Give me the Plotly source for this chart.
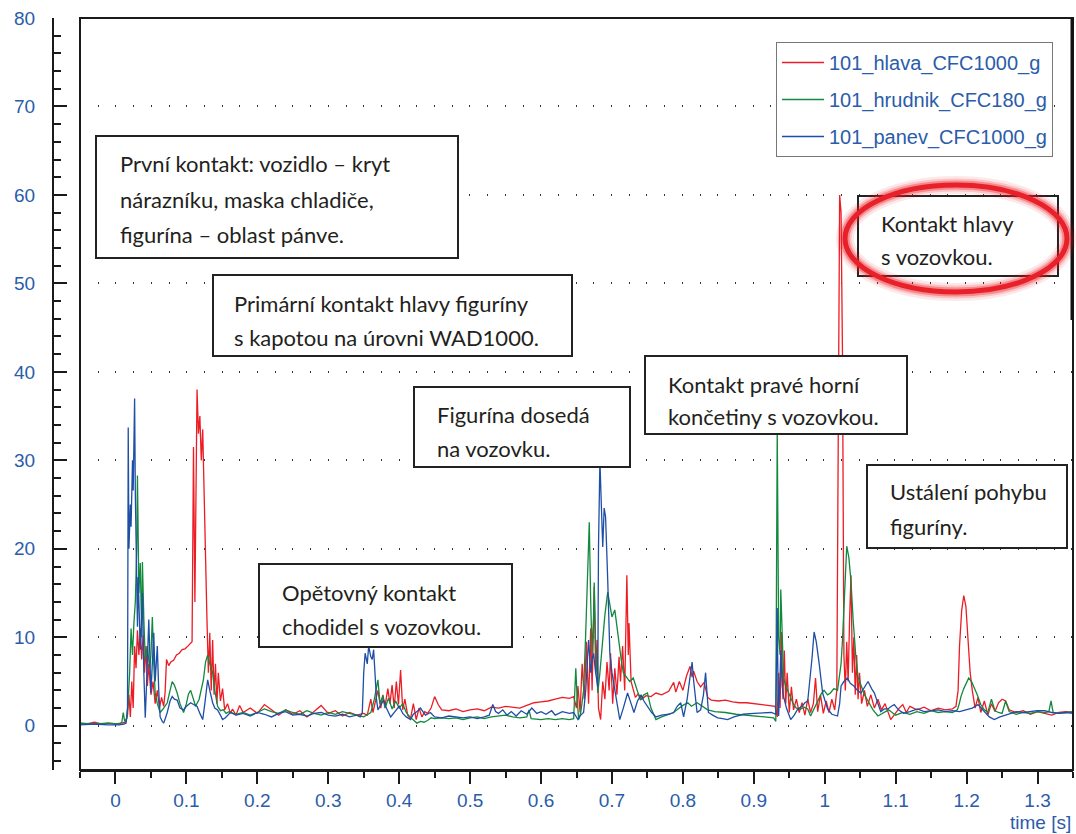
import plotly.graph_objects as go

# ---------------- data ----------------
series_names = ["101_hlava_CFC1000_g", "101_hrudnik_CFC180_g", "101_panev_CFC1000_g"]

t_hlava = [-0.05, -0.04, -0.03, -0.02, -0.01, 0.0, 0.008, 0.014, 0.017, 0.019, 0.021, 0.023, 0.025, 0.027,
           0.029, 0.031, 0.033, 0.035, 0.037, 0.039, 0.041, 0.043, 0.045, 0.047, 0.05, 0.053, 0.056, 0.059,
           0.062, 0.065, 0.068, 0.07, 0.072, 0.075, 0.078, 0.082, 0.086, 0.09, 0.094, 0.098, 0.102, 0.106,
           0.108, 0.11, 0.112, 0.115, 0.117, 0.119, 0.121, 0.123, 0.125, 0.127, 0.129, 0.131, 0.133, 0.135,
           0.137, 0.139, 0.141, 0.143, 0.145, 0.148, 0.151, 0.154, 0.158, 0.162, 0.165, 0.17, 0.175, 0.18,
           0.19, 0.2, 0.21, 0.22, 0.23, 0.24, 0.25, 0.26, 0.27, 0.28, 0.29, 0.3, 0.31, 0.32, 0.33, 0.34, 0.35,
           0.355, 0.36, 0.363, 0.366, 0.37, 0.374, 0.377, 0.38, 0.384, 0.387, 0.39, 0.393, 0.396, 0.399, 0.402,
           0.405, 0.408, 0.412, 0.416, 0.42, 0.424, 0.428, 0.432, 0.436, 0.44, 0.445, 0.45, 0.455, 0.46, 0.47,
           0.48, 0.49, 0.5, 0.51, 0.52, 0.53, 0.54, 0.55, 0.56, 0.57, 0.58, 0.59, 0.6, 0.61, 0.62, 0.63, 0.64,
           0.646, 0.65, 0.652, 0.655, 0.658, 0.661, 0.664, 0.667, 0.67, 0.672, 0.675, 0.677, 0.679, 0.681,
           0.684, 0.687, 0.69, 0.693, 0.696, 0.698, 0.701, 0.704, 0.707, 0.71, 0.712, 0.715, 0.718, 0.721,
           0.723, 0.724, 0.727, 0.729, 0.733, 0.737, 0.742, 0.748, 0.755, 0.762, 0.77, 0.78, 0.787, 0.79,
           0.795, 0.8, 0.805, 0.81, 0.813, 0.815, 0.82, 0.825, 0.83, 0.835, 0.84, 0.85, 0.86, 0.87, 0.88,
           0.89, 0.9, 0.91, 0.92, 0.93, 0.933, 0.935, 0.937, 0.939, 0.941, 0.943, 0.945, 0.947, 0.95, 0.953,
           0.956, 0.96, 0.964, 0.968, 0.972, 0.976, 0.98, 0.984, 0.987, 0.99, 0.994, 0.998, 1.002, 1.006,
           1.01, 1.014, 1.017, 1.019, 1.021, 1.023, 1.025, 1.027, 1.029, 1.031, 1.033, 1.035, 1.037, 1.039,
           1.041, 1.043, 1.045, 1.047, 1.049, 1.052, 1.056, 1.06, 1.065, 1.07, 1.075, 1.08, 1.085, 1.093,
           1.1, 1.105, 1.11, 1.115, 1.12, 1.13, 1.14, 1.15, 1.16, 1.17, 1.18, 1.185, 1.188, 1.19, 1.193,
           1.196, 1.199, 1.202, 1.205, 1.208, 1.212, 1.216, 1.22, 1.225, 1.23, 1.235, 1.24, 1.245, 1.25,
           1.255, 1.26, 1.27, 1.28, 1.29, 1.3, 1.31, 1.32, 1.33, 1.34, 1.35]
g_hlava = [0.3, 0.2, 0.4, 0.2, 0.3, 0.2, 0.3, 0.4, 1.2, 3.5, 1.0, 5.0, 2.0, 9.0,
           6.5, 10.8, 8.0, 11.0, 7.5, 10.2, 6.0, 9.0, 4.5, 7.0, 3.5, 5.0, 2.5, 4.0,
           2.0, 3.2, 2.2, 3.8, 7.5, 6.8, 7.2, 7.4, 8.0, 8.2, 8.6, 8.7, 9.0, 9.3,
           9.5, 31.5, 14.0, 38.0, 33.0, 35.0, 30.0, 33.5, 25.0, 18.0, 12.0, 6.0, 10.5, 4.0,
           9.7, 3.5, 7.0, 2.5, 6.0, 2.8, 4.2, 1.8, 2.5, 1.4, 1.9, 1.2, 2.3, 1.5,
           2.0, 1.4, 2.4, 1.8, 1.2, 1.8, 1.3, 1.7, 1.0, 1.6, 2.3, 1.4, 1.7, 1.1, 1.5, 1.2, 1.4,
           1.2, 3.0, 1.5, 2.6, 4.0, 2.0, 3.5, 2.2, 4.2, 2.5, 4.6, 2.0, 5.0, 2.4, 6.3,
           1.8, 3.0, 1.2, 0.8, 2.5, 0.7, 2.0, 1.0, 1.6, 1.4, 2.0, 3.3, 2.4, 1.8, 1.7,
           1.9, 1.6, 1.8, 1.9, 1.7, 2.1, 2.0, 2.2, 2.1, 2.0, 2.3, 2.6, 2.7, 2.8, 3.0, 3.2, 3.1,
           3.3, 2.0, 4.5, 1.5, 7.0, 3.0, 9.5, 2.5, 11.0, 4.0, 15.7, 6.0, 9.7, 2.0,
           0.7, 5.0, 3.0, 7.2, 4.0, 8.2, 2.5, 6.5, 3.5, 7.8, 5.0, 9.0, 4.0, 17.0,
           8.0, 11.6, 5.0, 4.4, 3.2, 3.6, 3.0, 3.4, 3.3, 3.7, 3.5, 3.9, 4.9, 3.8,
           5.0, 4.0, 5.6, 6.7, 5.5, 6.2, 5.0, 4.4, 4.9, 3.2, 2.9, 2.8, 2.9, 2.7, 2.6,
           2.6, 2.5, 2.4, 2.3, 2.2, 1.0, 6.0, 2.0, 10.6, 3.0, 8.5, 2.5, 6.0, 1.5, 4.4,
           1.8, 3.0, 1.5, 2.6, 1.2, 3.0, 1.5, 2.5, 5.4, 1.6, 3.5, 1.4, 2.8, 1.5,
           3.0, 1.8, 4.0, 42.0, 60.0, 58.0, 42.0, 8.0, 4.0, 9.5, 5.0, 12.0, 17.0, 6.0,
           10.0, 3.5, 8.0, 3.0, 6.0, 2.5, 4.0, 2.2, 3.5, 2.0, 3.0, 1.8, 2.5, 0.7,
           1.5, 2.0, 2.4, 1.5, 2.2, 1.8, 2.1, 1.7, 2.0, 1.8, 1.9, 2.2, 4.0, 9.0, 13.0,
           14.7, 13.5, 10.0, 6.0, 4.0, 2.0, 3.2, 1.5, 2.8, 1.2, 2.5, 1.6, 2.6, 3.0,
           2.8, 1.8, 1.5, 1.7, 1.3, 1.6, 1.4, 1.2, 1.5, 1.6, 1.5]

t_hrudnik = [-0.05, -0.03, -0.01, 0.005, 0.009, 0.011, 0.013, 0.016, 0.018, 0.02, 0.022, 0.024, 0.026,
             0.028, 0.03, 0.031, 0.033, 0.035, 0.037, 0.038, 0.04, 0.042, 0.045, 0.048, 0.05, 0.052, 0.054,
             0.056, 0.059, 0.063, 0.068, 0.073, 0.077, 0.08, 0.083, 0.087, 0.091, 0.096, 0.1, 0.103, 0.106,
             0.109, 0.113, 0.118, 0.122, 0.124, 0.127, 0.13, 0.133, 0.137, 0.14, 0.144, 0.148, 0.152, 0.156,
             0.16, 0.17, 0.18, 0.19, 0.2, 0.21, 0.22, 0.23, 0.24, 0.25, 0.26, 0.27, 0.28, 0.29, 0.3, 0.31,
             0.32, 0.33, 0.34, 0.35, 0.36, 0.365, 0.37, 0.373, 0.377, 0.38, 0.385, 0.39, 0.395, 0.4, 0.405,
             0.41, 0.415, 0.42, 0.425, 0.43, 0.435, 0.44, 0.445, 0.45, 0.46, 0.47, 0.48, 0.49, 0.5, 0.51, 0.52,
             0.53, 0.54, 0.55, 0.56, 0.57, 0.58, 0.583, 0.586, 0.6, 0.61, 0.62, 0.63, 0.64, 0.646, 0.649, 0.651,
             0.653, 0.656, 0.66, 0.663, 0.666, 0.668, 0.67, 0.672, 0.674, 0.675, 0.677, 0.68, 0.683, 0.687,
             0.69, 0.694, 0.697, 0.7, 0.704, 0.707, 0.71, 0.713, 0.716, 0.72, 0.725, 0.73, 0.735, 0.74, 0.745,
             0.75, 0.755, 0.762, 0.77, 0.78, 0.787, 0.795, 0.8, 0.807, 0.812, 0.82, 0.827, 0.835, 0.845, 0.86,
             0.875, 0.89, 0.905, 0.92, 0.928, 0.931, 0.933, 0.935, 0.937, 0.938, 0.94, 0.942, 0.945, 0.949,
             0.953, 0.956, 0.96, 0.966, 0.971, 0.976, 0.98, 0.985, 0.99, 0.995, 0.999, 1.004, 1.008, 1.013,
             1.018, 1.021, 1.023, 1.025, 1.028, 1.031, 1.034, 1.037, 1.04, 1.044, 1.047, 1.051, 1.056, 1.061,
             1.068, 1.075, 1.082, 1.09, 1.1, 1.11, 1.12, 1.13, 1.14, 1.15, 1.16, 1.17, 1.18, 1.187, 1.19,
             1.192, 1.196, 1.2, 1.203, 1.207, 1.21, 1.215, 1.22, 1.225, 1.23, 1.235, 1.24, 1.245, 1.25, 1.255,
             1.26, 1.27, 1.28, 1.29, 1.3, 1.31, 1.316, 1.319, 1.322, 1.33, 1.34, 1.35]
g_hrudnik = [0.3, 0.2, 0.3, 0.2, 0.4, 1.5, 0.5, 0.8, 3.0, 6.0, 11.0, 8.0, 11.6,
             14.0, 20.0, 28.3, 15.0, 18.4, 10.0, 18.5, 12.0, 7.5, 9.0, 6.5, 8.0, 12.3, 7.0,
             3.7, 2.5, 1.5, 2.0, 2.6, 4.0, 5.0, 4.6, 3.7, 2.5, 1.5, 2.5, 3.6, 4.0,
             3.2, 2.2, 3.0, 4.5, 5.2, 7.2, 8.0, 7.0, 6.0, 4.0, 2.2, 1.7, 1.8, 1.4,
             1.6, 1.3, 1.5, 1.2, 1.5, 1.9, 1.6, 1.4, 1.8, 1.5, 1.3, 1.7, 1.4, 1.2, 1.5, 1.3,
             1.6, 1.4, 1.2, 1.0, 1.5, 3.0, 5.2, 2.5, 3.4, 2.0, 3.1, 1.9, 2.8, 2.0, 2.5,
             1.5, 1.0, 0.6, 0.3, 0.5, 0.4, 0.6, 0.9, 0.8, 0.9, 0.8, 0.9, 0.7, 0.9, 1.0, 0.8,
             1.0, 1.1, 1.2, 1.0, 0.9, 1.0, 1.8, 0.8, 0.7, 0.8, 0.7, 0.8, 0.7, 0.8, 6.5, 3.0,
             0.7, 1.5, 4.0, 10.5, 18.0, 23.0, 14.0, 8.2, 12.0, 16.2, 9.0, 3.7, 6.0, 10.0,
             12.5, 15.1, 13.5, 12.3, 13.1, 11.0, 9.0, 7.5, 6.0, 5.5, 5.0, 5.4, 4.0, 2.9, 3.5,
             3.7, 2.0, 0.7, 1.0, 1.3, 1.5, 2.0, 2.3, 2.6, 2.2, 2.6, 2.2, 1.8, 1.6, 1.5,
             1.3, 1.2, 1.1, 1.0, 0.9, 0.5, 33.5, 10.0, 8.0, 15.4, 9.0, 5.4, 4.5, 3.7,
             2.8, 2.4, 2.0, 1.9, 2.1, 1.9, 1.1, 2.0, 2.8, 3.6, 4.0, 3.5, 3.7, 4.2,
             4.0, 5.5, 7.0, 9.7, 15.0, 20.3, 19.0, 16.3, 12.0, 7.6, 5.5, 4.5, 3.5, 2.8,
             1.8, 1.1, 1.4, 1.8, 1.2, 1.5, 1.3, 1.6, 1.4, 1.7, 1.5, 1.6, 1.5, 1.8, 2.6,
             3.3, 4.2, 5.0, 5.4, 5.0, 4.5, 3.5, 2.4, 1.8, 1.5, 3.0, 1.7, 1.5, 1.4, 2.8,
             1.6, 1.3, 1.5, 1.4, 1.6, 1.5, 1.6, 2.8, 1.5, 1.4, 1.5, 1.6]

t_panev = [-0.05, -0.03, -0.01, 0.005, 0.012, 0.015, 0.017, 0.018, 0.019, 0.021, 0.022, 0.024, 0.025,
           0.027, 0.028, 0.03, 0.031, 0.032, 0.034, 0.035, 0.037, 0.038, 0.04, 0.042, 0.044, 0.047, 0.05,
           0.052, 0.054, 0.056, 0.059, 0.061, 0.063, 0.066, 0.068, 0.071, 0.073, 0.077, 0.08, 0.083, 0.087,
           0.091, 0.096, 0.1, 0.106, 0.11, 0.115, 0.119, 0.123, 0.126, 0.13, 0.133, 0.137, 0.14, 0.144,
           0.148, 0.151, 0.155, 0.162, 0.17, 0.18, 0.19, 0.2, 0.21, 0.22, 0.23, 0.24, 0.25, 0.26, 0.27,
           0.28, 0.29, 0.3, 0.31, 0.32, 0.33, 0.34, 0.345, 0.348, 0.35, 0.352, 0.355, 0.357, 0.36, 0.362,
           0.364, 0.366, 0.368, 0.37, 0.374, 0.378, 0.382, 0.388, 0.394, 0.4, 0.405, 0.41, 0.416, 0.42,
           0.425, 0.43, 0.437, 0.444, 0.45, 0.46, 0.47, 0.48, 0.49, 0.5, 0.51, 0.52, 0.527, 0.532, 0.536,
           0.54, 0.546, 0.552, 0.558, 0.565, 0.572, 0.58, 0.587, 0.594, 0.6, 0.607, 0.615, 0.62, 0.63,
           0.64, 0.646, 0.652, 0.656, 0.66, 0.663, 0.667, 0.67, 0.672, 0.674, 0.677, 0.68, 0.681, 0.683,
           0.685, 0.687, 0.689, 0.691, 0.694, 0.697, 0.7, 0.703, 0.707, 0.711, 0.716, 0.722, 0.727, 0.731,
           0.736, 0.741, 0.745, 0.75, 0.756, 0.762, 0.77, 0.78, 0.787, 0.792, 0.797, 0.801, 0.806, 0.81,
           0.813, 0.815, 0.818, 0.82, 0.825, 0.829, 0.832, 0.836, 0.842, 0.849, 0.856, 0.863, 0.872, 0.885,
           0.9, 0.915, 0.925, 0.931, 0.933, 0.934, 0.935, 0.937, 0.938, 0.94, 0.942, 0.946, 0.952, 0.957,
           0.962, 0.968, 0.972, 0.976, 0.979, 0.982, 0.985, 0.988, 0.992, 0.997, 1.004, 1.01, 1.018, 1.021,
           1.023, 1.027, 1.032, 1.036, 1.041, 1.046, 1.051, 1.056, 1.061, 1.066, 1.07, 1.075, 1.079, 1.084,
           1.089, 1.094, 1.098, 1.104, 1.111, 1.12, 1.131, 1.14, 1.15, 1.16, 1.17, 1.18, 1.19, 1.2, 1.208,
           1.216, 1.225, 1.232, 1.239, 1.247, 1.255, 1.262, 1.27, 1.28, 1.29, 1.3, 1.31, 1.32, 1.33, 1.34,
           1.35]
g_panev = [0.1, 0.2, 0.1, 0.1, 0.2, 0.3, 2.0, 33.7, 20.0, 25.0, 22.5, 30.0, 26.6,
           37.0, 26.3, 18.0, 11.2, 16.8, 12.0, 8.6, 12.5, 15.0, 6.0, 0.9, 5.0, 12.0, 3.7,
           7.0, 10.5, 5.0, 9.0, 4.0, 1.0, 0.5, 0.3, 1.0, 1.5, 2.8, 3.3, 3.0, 2.9,
           2.0, 1.8, 2.2, 2.6, 2.4, 2.2, 1.4, 0.7, 2.5, 5.2, 4.0, 2.6, 2.0, 1.8,
           1.2, 0.7, 0.9, 1.5, 1.2, 1.4, 1.1, 1.5, 1.3, 1.0, 1.4, 1.6, 1.2, 1.3, 1.1,
           1.4, 1.5, 1.2, 1.1, 1.3, 1.0, 1.2, 1.0, 1.5, 6.0, 8.2, 7.0, 9.0, 7.8, 7.5,
           8.6, 5.0, 3.0, 1.8, 2.4, 2.9, 2.0, 1.0, 1.6, 2.2, 1.4, 1.0, 0.7, 1.3,
           1.6, 2.0, 1.2, 1.5, 1.0, 0.9, 1.1, 1.0, 0.9, 1.0, 0.8, 1.0, 1.2, 2.4, 1.6,
           1.4, 1.8, 1.2, 1.6, 1.1, 1.7, 1.3, 2.0, 1.4, 1.6, 1.3, 1.7, 1.2, 1.6,
           1.4, 1.5, 0.7, 1.2, 1.5, 4.0, 9.7, 6.0, 7.5, 8.2, 6.0, 4.4, 20.2, 30.0,
           25.0, 20.2, 24.6, 23.6, 16.5, 8.2, 6.0, 4.4, 2.5, 0.7, 2.0, 3.7, 2.5, 1.5,
           2.8, 3.5, 2.8, 2.2, 1.5, 1.0, 1.2, 1.3, 1.5, 2.2, 2.6, 1.0, 3.0, 5.5,
           7.2, 5.2, 3.0, 1.5, 1.8, 3.5, 6.0, 1.5, 1.2, 0.9, 0.8, 0.7, 1.0, 1.3,
           1.4, 1.5, 1.5, 1.3, 13.3, 5.0, 1.1, 5.5, 8.5, 4.5, 3.3, 2.0, 0.7, 1.2,
           1.9, 2.2, 2.6, 2.8, 5.0, 7.6, 10.6, 9.5, 7.1, 3.7, 1.9, 1.3, 1.1, 2.5,
           4.5, 5.0, 5.4, 4.8, 4.5, 4.0, 3.7, 4.4, 5.0, 4.2, 3.7, 2.5, 1.6, 1.9,
           1.9, 2.2, 2.4, 1.8, 1.4, 1.6, 1.9, 1.6, 1.7, 1.8, 1.6, 1.7, 1.6, 1.8, 2.0,
           2.4, 1.6, 1.0, 0.7, 1.0, 1.2, 1.4, 1.6, 1.5, 1.6, 1.7, 1.7, 1.5, 1.4, 1.5,
           1.4]

x_tick_values = [0, 0.1, 0.2, 0.3, 0.4, 0.5, 0.6, 0.7, 0.8, 0.9, 1.0, 1.1, 1.2, 1.3]
x_tick_labels = ["0", "0.1", "0.2", "0.3", "0.4", "0.5", "0.6", "0.7", "0.8", "0.9", "1", "1.1", "1.2", "1.3"]
y_tick_values = [0, 10, 20, 30, 40, 50, 60, 70, 80]
y_tick_labels = ["0", "10", "20", "30", "40", "50", "60", "70", "80"]

notes = [
    ["První kontakt: vozidlo – kryt", "nárazníku, maska chladiče,", "figurína – oblast pánve."],
    ["Primární kontakt hlavy figuríny", "s kapotou na úrovni WAD1000."],
    ["Figurína dosedá", "na vozovku."],
    ["Kontakt pravé horní", "končetiny s vozovkou."],
    ["Kontakt hlavy", "s vozovkou."],
    ["Ustálení pohybu", "figuríny."],
    ["Opětovný kontakt", "chodidel s vozovkou."],
]

# ---------------- styling / layout ----------------
W, H = 1076, 834
ML, MR, MT, MB = 53, 3, 18, 64
PW, PH = W - ML - MR, H - MT - MB

def px(xp, yp):
    return (xp - ML) / PW, (H - MB - yp) / PH

RED, GREEN, BLUE = "#ec1c24", "#12893c", "#1f4ea6"
LABEL = "#2a5caa"
TXT = "#231f20"

# note boxes: (x0, y0, x1, y1, text-left, [line centre y...]) in page pixels
box_geom = [
    (96, 136, 458, 258, 118, [163, 199, 234]),
    (213, 275, 572, 356, 232, [303, 337]),
    (414, 387, 630, 467, 435, [414, 448]),
    (645, 356, 907, 434, 666, [384, 416]),
    (858, 196, 1058, 276, 879, [223, 256]),
    (867, 465, 1067, 548, 888, [492, 526]),
    (259, 564, 512, 647, 280, [592, 626]),
]

fig = go.Figure()
for name, tt, gg, col in [(series_names[0], t_hlava, g_hlava, RED),
                          (series_names[1], t_hrudnik, g_hrudnik, GREEN),
                          (series_names[2], t_panev, g_panev, BLUE)]:
    fig.add_trace(go.Scatter(x=tt, y=gg, mode="lines", name=name, legendgroup=name,
                             line=dict(color=col, width=1.3)))

shapes = []
annotations = []
# frame of the plot area
shapes.append(dict(type="rect", xref="x domain", yref="y domain", x0=0, x1=1, y0=0, y1=1,
                   line=dict(color="#1a1a1a", width=2), layer="above"))
x0p, y0p = px(1072, 18)
x1p, y1p = px(1072, 320)
shapes.append(dict(type="line", xref="paper", yref="paper", x0=x0p, x1=x1p, y0=y0p, y1=y1p,
                   line=dict(color="#111", width=3), layer="above"))

for (bx0, by0, bx1, by1, tx, lines_y), lines in zip(box_geom, notes):
    a, b = px(bx0, by0)
    c, d = px(bx1, by1)
    shapes.append(dict(type="rect", xref="paper", yref="paper", x0=a, x1=c, y0=d, y1=b,
                       fillcolor="white", line=dict(color="#222", width=2), layer="above"))
    for ly, txt in zip(lines_y, lines):
        ax, ay = px(tx, ly)
        annotations.append(dict(xref="paper", yref="paper", x=ax, y=ay, text=txt, showarrow=False,
                                xanchor="left", yanchor="middle",
                                font=dict(family="Lato, Open Sans, sans-serif", size=22, color=TXT)))

# red highlight ellipse with soft glow
ex0, ey0 = px(845, 185)
ex1, ey1 = px(1067, 292)
for w, col in [(18, "rgba(236,28,36,0.10)"), (13, "rgba(236,28,36,0.18)"), (9, "rgba(236,28,36,0.35)"),
               (5, "#e8202a")]:
    shapes.append(dict(type="circle", xref="paper", yref="paper", x0=ex0, x1=ex1, y0=ey1, y1=ey0,
                       line=dict(color=col, width=w), layer="above"))

# x axis title
tx_, ty_ = px(1073, 823)
annotations.append(dict(xref="paper", yref="paper", x=tx_, y=ty_, text="time [s]", showarrow=False,
                        xanchor="right", yanchor="middle",
                        font=dict(family="Liberation Sans, Arial, sans-serif", size=19, color=LABEL)))

lgx, lgy = px(776, 42)
fig.update_layout(
    width=W, height=H,
    margin=dict(l=ML, r=MR, t=MT, b=MB),
    paper_bgcolor="white", plot_bgcolor="white",
    font=dict(family="Liberation Sans, Arial, sans-serif", color=LABEL),
    showlegend=True,
    legend=dict(x=lgx, y=lgy, xanchor="left", yanchor="top", bgcolor="white",
                bordercolor="#777", borderwidth=1, tracegroupgap=8, itemwidth=42,
                font=dict(size=20, color=LABEL, family="Liberation Sans, Arial, sans-serif")),
    xaxis=dict(domain=[(80 - ML) / PW, 1], range=[-0.05, 1.35], showgrid=False, zeroline=False,
               showline=True, linecolor="#1a1a1a", linewidth=2,
               ticks="outside", ticklen=12, tickwidth=2, tickcolor="#1a1a1a",
               tickmode="array", tickvals=x_tick_values, ticktext=x_tick_labels,
               tickfont=dict(size=19, color=LABEL), ticklabelstandoff=0,
               minor=dict(ticks="outside", ticklen=6, tickwidth=1.5, tickcolor="#1a1a1a",
                          tickmode="linear", tick0=0, dtick=0.05, showgrid=False)),
    yaxis=dict(anchor="free", position=0, domain=[0, 1], range=[-5, 80], zeroline=False,
               showline=True, linecolor="#1a1a1a", linewidth=2,
               ticks="inside", ticklen=13, tickwidth=2, tickcolor="#1a1a1a",
               tickmode="array", tickvals=y_tick_values, ticktext=y_tick_labels,
               tickfont=dict(size=19, color=LABEL), ticklabelstandoff=13,
               showgrid=True, gridcolor="#333", gridwidth=1.5, griddash="1px,16.7px",
               minor=dict(ticks="inside", ticklen=7, tickwidth=1.5, tickcolor="#1a1a1a",
                          tickmode="linear", tick0=0, dtick=2, showgrid=False)),
    shapes=shapes, annotations=annotations,
)

fig.write_html("out.html")
